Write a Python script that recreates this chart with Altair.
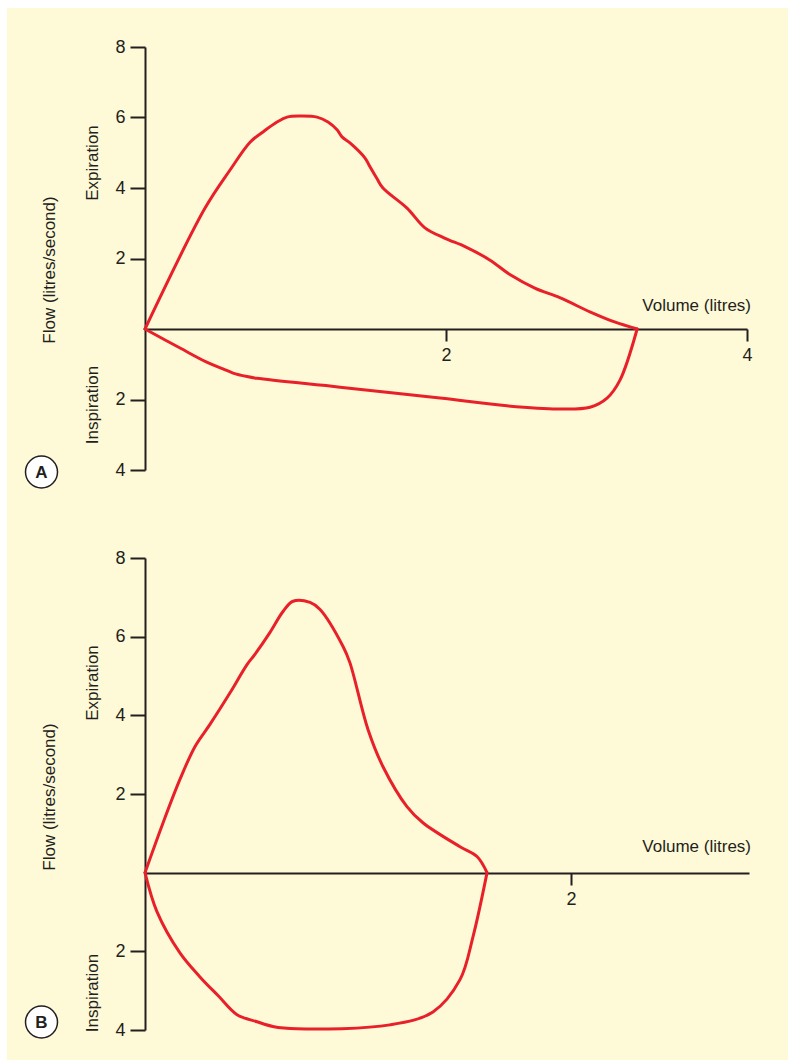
import altair as alt
import pandas as pd

# ---------------- data ----------------
# Panel A: normal flow-volume loop
a_exp_vol = [0, 0.399, 0.565, 0.698, 0.784, 0.877, 0.944, 1.03, 1.143, 1.216, 1.276, 1.309,
             1.362, 1.462, 1.495, 1.542, 1.581, 1.741, 1.86, 1.99, 2.13, 2.29, 2.43, 2.59,
             2.76, 2.96, 3.12, 3.27]
a_exp_flow = [0, 3.43, 4.51, 5.30, 5.59, 5.87, 6.01, 6.04, 6.01, 5.87, 5.65, 5.45,
              5.28, 4.85, 4.60, 4.26, 4.00, 3.43, 2.87, 2.58, 2.33, 1.96, 1.53, 1.16,
              0.88, 0.48, 0.20, 0]
a_insp_vol = [0, 0.233, 0.41, 0.518, 0.585, 0.678, 0.744, 1.296, 1.96, 2.405, 2.74, 2.957,
              3.07, 3.156, 3.27]
a_insp_flow = [0, -0.54, -0.94, -1.13, -1.25, -1.35, -1.40, -1.65, -1.96, -2.18, -2.27, -2.22,
               -1.96, -1.45, 0]

# Panel B: second flow-volume loop
b_exp_vol = [0, 0.085, 0.164, 0.235, 0.305, 0.40, 0.479, 0.516, 0.587, 0.648, 0.695, 0.775,
             0.822, 0.93, 0.962, 1.047, 1.117, 1.23, 1.305, 1.479, 1.559, 1.606]
b_exp_flow = [0, 1.27, 2.37, 3.21, 3.77, 4.58, 5.29, 5.55, 6.11, 6.64, 6.90, 6.87,
              6.69, 5.75, 5.34, 3.64, 2.70, 1.68, 1.27, 0.66, 0.41, 0]
b_insp_vol = [0, 0.056, 0.164, 0.258, 0.344, 0.432, 0.526, 0.60, 0.714, 1.15, 1.352, 1.479,
              1.54, 1.606]
b_insp_flow = [0, -0.99, -2.04, -2.65, -3.13, -3.61, -3.79, -3.91, -3.97, -3.87, -3.54, -2.72,
               -1.63, 0]

a_x_ticks = [2, 4]
b_x_ticks = [2]
y_ticks = [-4, -2, 2, 4, 6, 8]
y_domain = [-4, 8]
a_x_domain = [0, 4]
b_x_domain = [0, 2.836]

# ---------------- style ----------------
INK = "#231F20"
RED = "#E8202A"
BG = "#FEF9D7"
FONT = "Liberation Sans"
FS = 17
LFS = 18


def loop_df(ev, ef, iv, fi):
    rows = []
    for i, (v, f) in enumerate(zip(ev, ef)):
        rows.append({"vol": v, "flow": f, "seg": "exp", "i": i})
    for i, (v, f) in enumerate(zip(iv, fi)):
        rows.append({"vol": v, "flow": f, "seg": "insp", "i": i})
    return pd.DataFrame(rows)


def panel(df, x_domain, x_ticks, w, h, zero_from_top, letter, pos, frame=False):
    x = alt.X("vol:Q",
              scale=alt.Scale(domain=x_domain, nice=False, zero=False),
              axis=alt.Axis(values=x_ticks, orient="bottom", offset=-(h - zero_from_top),
                            title=None, grid=False, domainColor=INK, domainWidth=2,
                            tickColor=INK, tickWidth=2, tickSize=12, labelFont=FONT,
                            labelFontSize=LFS, labelColor=INK, labelPadding=5,
                            labelFlush=False, labelOverlap=False))
    y = alt.Y("flow:Q",
              scale=alt.Scale(domain=y_domain, nice=False, zero=False),
              axis=alt.Axis(values=y_ticks, orient="left", title=None, grid=False,
                            labelExpr="'' + abs(datum.value)", domainColor=INK,
                            domainWidth=2, tickColor=INK, tickWidth=2, tickSize=15,
                            labelFont=FONT, labelFontSize=LFS, labelColor=INK,
                            labelPadding=5, labelOverlap=False))
    line = alt.Chart(df).mark_line(color=RED, strokeWidth=3, interpolate="catmull-rom",
                                   strokeJoin="round", strokeCap="round").encode(
        x=x, y=y, detail="seg:N", order="i:Q")

    one = pd.DataFrame({"k": [0]})
    layers = []
    if frame:
        # white margin strips at top and left of the page (also fix the page extent)
        layers.append(alt.Chart(one).mark_rect(color="white").encode(
            x=alt.value(-145), x2=alt.value(643), y=alt.value(-47), y2=alt.value(-39)))
        layers.append(alt.Chart(one).mark_rect(color="white").encode(
            x=alt.value(-145), x2=alt.value(-138), y=alt.value(-47), y2=alt.value(1013)))
    layers.append(line)

    def vtext(t, px, py):
        return alt.Chart(pd.DataFrame({"t": [t]})).mark_text(
            angle=270, align="center", baseline="middle", font=FONT, fontSize=FS,
            color=INK).encode(x=alt.value(px), y=alt.value(py), text="t:N")

    layers.append(vtext("Expiration", -52, pos["exp"]))
    layers.append(vtext("Inspiration", -52, pos["insp"]))
    layers.append(vtext("Flow (litres/second)", -95, pos["flow"]))
    layers.append(alt.Chart(pd.DataFrame({"t": ["Volume (litres)"]})).mark_text(
        align="right", baseline="alphabetic", font=FONT, fontSize=FS, color=INK).encode(
        x=alt.value(606), y=alt.value(pos["vol"]), text="t:N"))
    layers.append(alt.Chart(one).mark_point(shape="circle", size=1024, filled=True,
                                            fill="white", stroke=INK, strokeWidth=1.5,
                                            opacity=1).encode(
        x=alt.value(-103.5), y=alt.value(pos["circle"])))
    layers.append(alt.Chart(pd.DataFrame({"t": [letter]})).mark_text(
        align="center", baseline="middle", font=FONT, fontSize=FS, fontWeight="bold",
        color=INK, dy=1).encode(x=alt.value(-103.5), y=alt.value(pos["circle"]), text="t:N"))

    return alt.layer(*layers).properties(width=w, height=h)


panel_a = panel(loop_df(a_exp_vol, a_exp_flow, a_insp_vol, a_insp_flow),
                a_x_domain, a_x_ticks, 602, 423, 282, "A",
                {"exp": 116, "insp": 358, "flow": 223, "vol": 264, "circle": 425},
                frame=True)
panel_b = panel(loop_df(b_exp_vol, b_exp_flow, b_insp_vol, b_insp_flow),
                b_x_domain, b_x_ticks, 604, 472, 315, "B",
                {"exp": 125, "insp": 435, "flow": 239, "vol": 294, "circle": 464})

chart = alt.vconcat(panel_a, panel_b, spacing=88, bounds="flush").properties(
    padding=0, background=BG
).configure_view(strokeWidth=0)

chart.save("out.html", embed_options={"renderer": "svg", "actions": False})
